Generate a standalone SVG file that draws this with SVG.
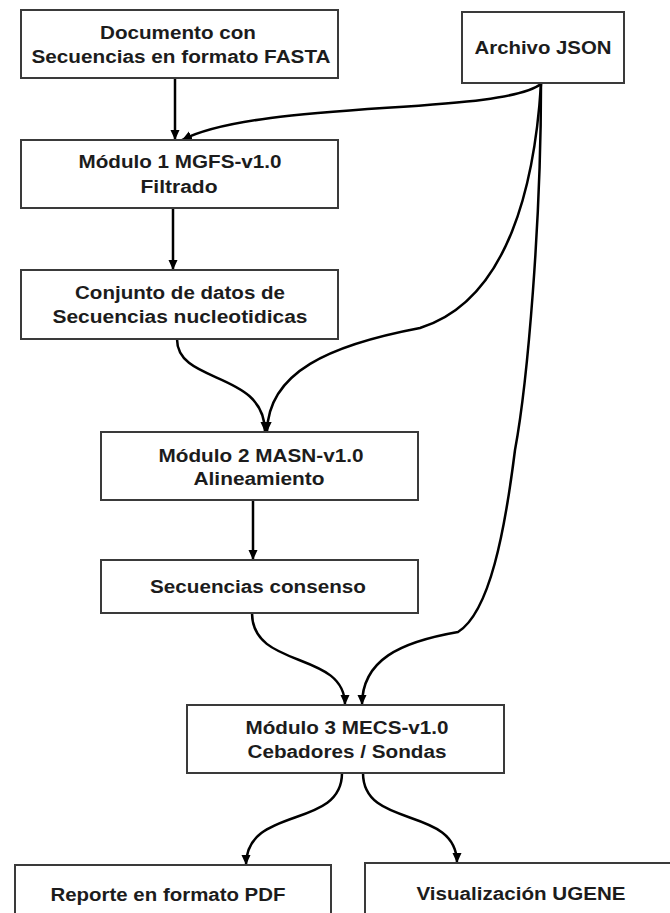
<svg xmlns="http://www.w3.org/2000/svg" width="670" height="913" viewBox="0 0 670 913">
<style>
.box{fill:#ffffff;stroke:#3a3a3a;stroke-width:2}
.lbl{font-family:"Liberation Sans",Arial,sans-serif;font-weight:bold;font-size:18px;fill:#1c1c1c;text-anchor:middle}
.edge{fill:none;stroke:#000;stroke-width:2.5}
</style>
<defs>
<marker id="arr" markerUnits="userSpaceOnUse" markerWidth="10" markerHeight="10" refX="10" refY="5" orient="auto">
<path d="M0,0.5 L10,5 L0,9.5 z" fill="#000"/>
</marker>
</defs>
<rect width="670" height="913" fill="#ffffff"/>
<g id="connectors">
<path class="edge" marker-end="url(#arr)" d="M175,78 L175,140"/>
<path class="edge" marker-end="url(#arr)" d="M173,208 L173,270"/>
<path class="edge" marker-end="url(#arr)" d="M253,500 L253,560"/>
<path class="edge" marker-end="url(#arr)" d="M541,84 C500,115 260,100 182,140"/>
<path class="edge" marker-end="url(#arr)" d="M541,84 C535,180 510,300 420,328 C330,345 268,372 267,432"/>
<path class="edge" marker-end="url(#arr)" d="M177,339 C177,385 265,370 265,432"/>
<path class="edge" marker-end="url(#arr)" d="M541,84 C541,220 528,380 515,450 C505,530 490,612 458,632 C400,642 362,660 362,705"/>
<path class="edge" marker-end="url(#arr)" d="M252,613 C252,670 345,650 345,705"/>
<path class="edge" marker-end="url(#arr)" d="M342,773 C342,830 246,805 246,865"/>
<path class="edge" marker-end="url(#arr)" d="M363,773 C363,830 457,805 457,863"/>
</g>
<g id="doc-fasta">
<rect class="box" x="21" y="10" width="317" height="68"/>
<text class="lbl" x="178" y="39" textLength="156" lengthAdjust="spacingAndGlyphs">Documento con</text>
<text class="lbl" x="181" y="63" textLength="299" lengthAdjust="spacingAndGlyphs">Secuencias en formato FASTA</text>
</g>
<g id="archivo-json">
<rect class="box" x="462" y="12" width="162" height="71"/>
<text class="lbl" x="543" y="54" textLength="137" lengthAdjust="spacingAndGlyphs">Archivo JSON</text>
</g>
<g id="modulo1">
<rect class="box" x="21" y="140" width="317" height="68"/>
<text class="lbl" x="180" y="168" textLength="203" lengthAdjust="spacingAndGlyphs">Módulo 1 MGFS-v1.0</text>
<text class="lbl" x="179" y="193" textLength="77" lengthAdjust="spacingAndGlyphs">Filtrado</text>
</g>
<g id="conjunto">
<rect class="box" x="21" y="270" width="317" height="69"/>
<text class="lbl" x="180" y="299" textLength="210" lengthAdjust="spacingAndGlyphs">Conjunto de datos de</text>
<text class="lbl" x="180" y="323" textLength="255" lengthAdjust="spacingAndGlyphs">Secuencias nucleotidicas</text>
</g>
<g id="modulo2">
<rect class="box" x="101" y="432" width="317" height="68"/>
<text class="lbl" x="261" y="462" textLength="205" lengthAdjust="spacingAndGlyphs">Módulo 2 MASN-v1.0</text>
<text class="lbl" x="259" y="485" textLength="131" lengthAdjust="spacingAndGlyphs">Alineamiento</text>
</g>
<g id="consenso">
<rect class="box" x="101" y="560" width="317" height="53"/>
<text class="lbl" x="258" y="593" textLength="216" lengthAdjust="spacingAndGlyphs">Secuencias consenso</text>
</g>
<g id="modulo3">
<rect class="box" x="187" y="705" width="317" height="68"/>
<text class="lbl" x="347" y="734" textLength="203" lengthAdjust="spacingAndGlyphs">Módulo 3 MECS-v1.0</text>
<text class="lbl" x="347" y="758" textLength="199" lengthAdjust="spacingAndGlyphs">Cebadores / Sondas</text>
</g>
<g id="reporte">
<rect class="box" x="15" y="865" width="316" height="60"/>
<text class="lbl" x="168" y="901" textLength="235" lengthAdjust="spacingAndGlyphs">Reporte en formato PDF</text>
</g>
<g id="ugene">
<rect class="box" x="365" y="863" width="320" height="60"/>
<text class="lbl" x="521" y="900" textLength="209" lengthAdjust="spacingAndGlyphs">Visualización UGENE</text>
</g>
</svg>
